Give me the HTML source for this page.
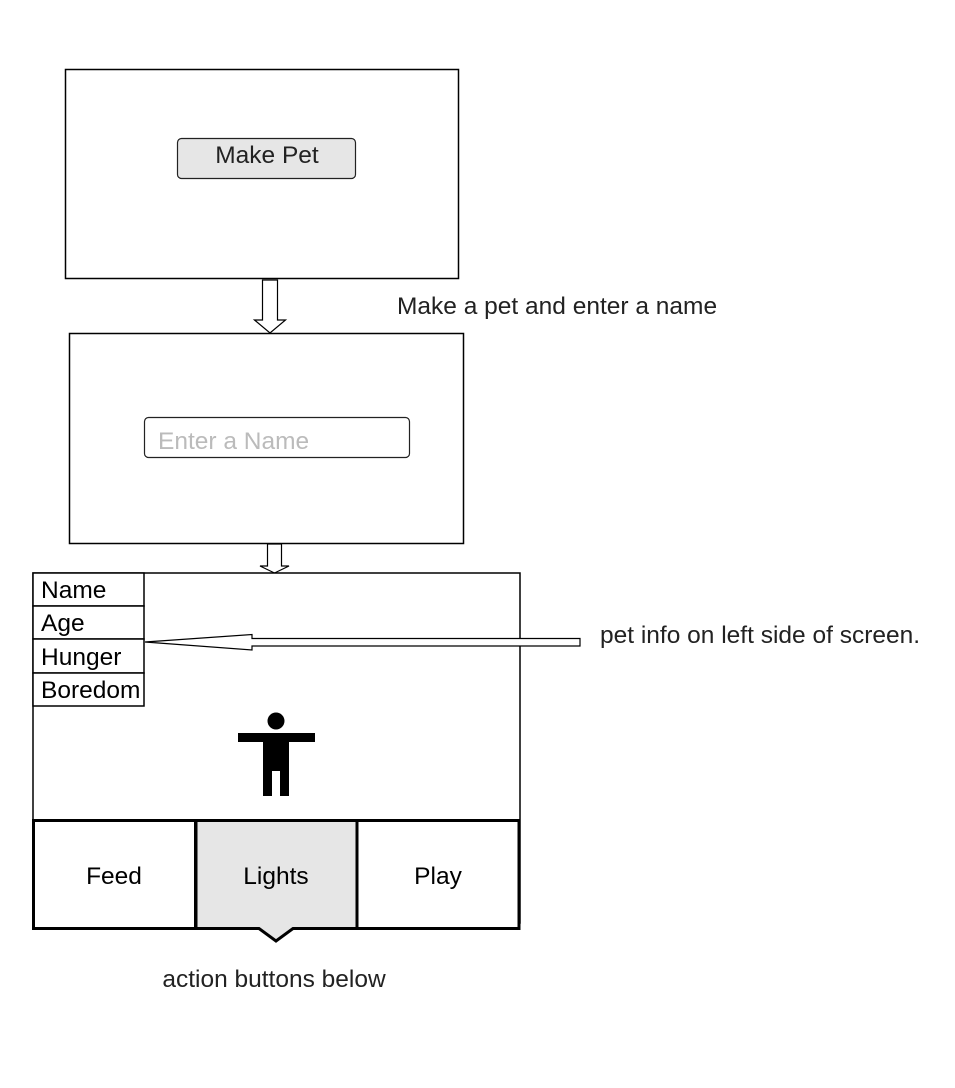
<!DOCTYPE html>
<html><head><style>body{margin:0;background:#fff}</style></head><body>
<svg width="955" height="1083" xmlns="http://www.w3.org/2000/svg" font-family="Liberation Sans, sans-serif">
<rect width="955" height="1083" fill="#fff"/>
<rect x="65.5" y="69.5" width="393" height="209" fill="#fff" stroke="#000" stroke-width="1.5"/>
<rect x="177.5" y="138.5" width="178" height="40" rx="4" fill="#e6e6e6" stroke="#222" stroke-width="1.2"/>
<text x="267" y="163" font-size="24.5" fill="#222" text-anchor="middle">Make Pet</text>
<polygon points="262.5,280 277.5,280 277.5,320 285.5,320 270,333 254.5,320 262.5,320" fill="#fff" stroke="#000" stroke-width="1.2"/>
<text x="397" y="314" font-size="24.5" fill="#222">Make a pet and enter a name</text>
<rect x="69.5" y="333.5" width="394" height="210" fill="#fff" stroke="#000" stroke-width="1.5"/>
<rect x="144.5" y="417.5" width="265" height="40" rx="4" fill="#fff" stroke="#222" stroke-width="1.2"/>
<text x="158" y="449" font-size="24.5" fill="#bbb">Enter a Name</text>
<polygon points="267.5,544 281.5,544 281.5,566 289,566 274.5,573 260,566 267.5,566" fill="#fff" stroke="#000" stroke-width="1.2"/>
<rect x="33" y="573" width="487" height="350" fill="#fff" stroke="#000" stroke-width="1.5"/>
<g stroke="#000" stroke-width="1.5" fill="#fff">
<rect x="33" y="573" width="111" height="33"/><rect x="33" y="606" width="111" height="33"/>
<rect x="33" y="639" width="111" height="34"/><rect x="33" y="673" width="111" height="33"/>
</g>
<g font-size="24.5" fill="#000">
<text x="41" y="598">Name</text><text x="41" y="631">Age</text>
<text x="41" y="665">Hunger</text><text x="41" y="698">Boredom</text>
</g>
<polygon points="580,638.5 252,638.5 252,634.5 145,642 252,650 252,646 580,646" fill="#fff" stroke="#000" stroke-width="1.2"/>
<text x="600" y="643" font-size="24.5" fill="#222">pet info on left side of screen.</text>
<circle cx="276" cy="721" r="8.5" fill="#000"/>
<rect x="238" y="733" width="77" height="9" fill="#000"/>
<rect x="263" y="741" width="26" height="30" fill="#000"/>
<rect x="263" y="770" width="9" height="26" fill="#000"/>
<rect x="280" y="770" width="9" height="26" fill="#000"/>
<rect x="33.5" y="820.5" width="162" height="108" fill="#fff" stroke="#000" stroke-width="3"/>
<polygon points="196,820.5 357,820.5 357,928.5 293,928.5 276,941 259,928.5 196,928.5" fill="#e6e6e6" stroke="#000" stroke-width="3"/>
<rect x="357" y="820.5" width="162" height="108" fill="#fff" stroke="#000" stroke-width="3"/>
<g font-size="24.5" fill="#000" text-anchor="middle">
<text x="114" y="884">Feed</text><text x="276" y="884">Lights</text><text x="438" y="884">Play</text>
</g>
<text x="274" y="987" font-size="24.5" fill="#222" text-anchor="middle">action buttons below</text>
</svg>
</body></html>
